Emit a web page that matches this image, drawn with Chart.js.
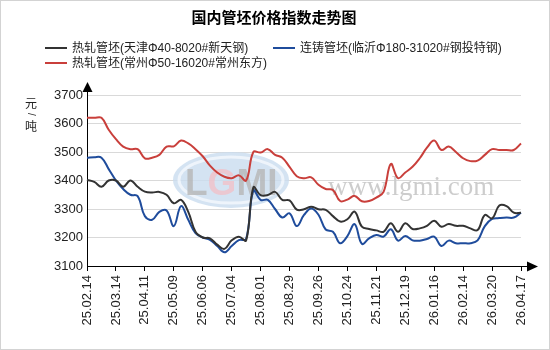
<!DOCTYPE html>
<html>
<head>
<meta charset="utf-8">
<script src="https://cdn.jsdelivr.net/npm/chart.js@4.4.1/dist/chart.umd.min.js"></script>
<style>
html, body { margin: 0; padding: 0; background: #fff; }
</style>
</head>
<body>
<canvas id="priceChart" width="550" height="350"></canvas>
<script>
// weekly index dates
var dates = [
  '25.02.14', '25.02.21', '25.02.28', '25.03.07', '25.03.14', '25.03.21', '25.03.28', '25.04.03',
  '25.04.11', '25.04.18', '25.04.25', '25.04.30', '25.05.09', '25.05.16', '25.05.23', '25.05.30',
  '25.06.06', '25.06.13', '25.06.20', '25.06.27', '25.07.04', '25.07.11', '25.07.18', '25.07.25',
  '25.08.01', '25.08.08', '25.08.15', '25.08.22', '25.08.29', '25.09.05', '25.09.12', '25.09.19',
  '25.09.26', '25.09.30', '25.10.10', '25.10.17', '25.10.24', '25.10.31', '25.11.07', '25.11.14',
  '25.11.21', '25.11.28', '25.12.05', '25.12.12', '25.12.19', '25.12.26', '25.12.31', '26.01.09',
  '26.01.16', '26.01.23', '26.01.30', '26.02.06', '26.02.14', '26.02.27', '26.03.06', '26.03.13',
  '26.03.20', '26.03.27', '26.04.03', '26.04.10', '26.04.17'
];

// 热轧管坯 天津
var tianjin = [
  3402, 3395, 3378, 3400, 3400, 3378, 3400, 3378, 3361, 3358,
  3360, 3350, 3320, 3332, 3290, 3220, 3200, 3197, 3175, 3160,
  3190, 3203, 3190, 3376, 3349, 3349, 3360, 3332, 3330, 3298,
  3299, 3308, 3299, 3297, 3275, 3256, 3264, 3291, 3238, 3230,
  3225, 3220, 3250, 3220, 3250, 3230, 3232, 3241, 3259, 3238,
  3247, 3241, 3241, 3232, 3226, 3279, 3267, 3312, 3310, 3287,
  3287
];

// 连铸管坯 临沂
var linyi = [
  3480, 3482, 3480, 3440, 3400, 3370, 3350, 3345, 3275, 3262,
  3290, 3295, 3240, 3310, 3262, 3215, 3200, 3192, 3170, 3148,
  3170, 3191, 3195, 3365, 3332, 3332, 3300, 3270, 3285, 3240,
  3279, 3302, 3280, 3228, 3220, 3180, 3205, 3247, 3178, 3197,
  3209, 3203, 3229, 3189, 3205, 3190, 3189, 3195, 3203, 3170,
  3189, 3180, 3180, 3180, 3190, 3240, 3265, 3268, 3270, 3270,
  3287
];

// 热轧管坯 常州
var changzhou = [
  3620, 3620, 3620, 3578, 3545, 3519, 3510, 3510, 3478, 3480,
  3490, 3519, 3520, 3540, 3530, 3510, 3485, 3452, 3428, 3413,
  3408, 3418, 3400, 3500, 3498, 3510, 3490, 3480, 3448, 3415,
  3408, 3411, 3385, 3370, 3367, 3328, 3333, 3346, 3327, 3328,
  3340, 3360, 3458, 3408, 3428, 3448, 3478, 3515, 3540, 3507,
  3519, 3500, 3478, 3468, 3470, 3490, 3510, 3507, 3507, 3507,
  3530
];

var seriesNames = [
  '热轧管坯(天津Φ40-8020#新天钢)',
  '连铸管坯(临沂Φ180-31020#钢投特钢)',
  '热轧管坯(常州Φ50-16020#常州东方)'
];
var seriesColors = ['#333333', '#1f4c9c', '#c93f3b'];

var latinFont = '"Liberation Sans", Arial, sans-serif';
var cjkFont = '"Liberation Sans", "Noto Sans CJK SC", sans-serif';

var decor = {
  id: 'decor',
  beforeDraw: function (chart) {
    var ctx = chart.ctx;
    ctx.save();
    ctx.fillStyle = '#ffffff';
    ctx.fillRect(0, 0, chart.width, chart.height);
    ctx.restore();
  },
  beforeDatasetsDraw: function (chart) {
    // faint site watermark behind the lines
    var ctx = chart.ctx;
    ctx.save();
    ctx.globalAlpha = 0.8;
    ctx.beginPath();
    ctx.ellipse(231, 180, 58, 28, 0, 0, Math.PI * 2);
    ctx.fillStyle = '#c9dcef';
    ctx.fill();
    ctx.beginPath();
    ctx.ellipse(231, 180, 52, 23, 0, 0, Math.PI * 2);
    ctx.strokeStyle = '#f4f8fc';
    ctx.lineWidth = 3;
    ctx.stroke();
    ctx.font = 'bold 37px ' + latinFont;
    ctx.textBaseline = 'alphabetic';
    var letters = [['L', '#b5b5b5'], ['G', '#f0c0c8'], ['M', '#b5b5b5'], ['I', '#b5b5b5']];
    var lx = 185;
    letters.forEach(function (l) {
      ctx.fillStyle = l[1];
      ctx.fillText(l[0], lx, 195);
      lx += ctx.measureText(l[0]).width;
    });
    ctx.globalAlpha = 1;
    ctx.font = '27px "Liberation Serif", serif';
    ctx.fillStyle = '#cdcdcd';
    ctx.fillText('www.lgmi.com', 328, 195);
    ctx.restore();
  },
  afterDraw: function (chart) {
    var ctx = chart.ctx;
    var area = chart.chartArea;
    ctx.save();

    // title
    ctx.fillStyle = '#000';
    ctx.font = 'bold 15px "Noto Sans CJK SC", sans-serif';
    ctx.textAlign = 'center';
    ctx.textBaseline = 'middle';
    ctx.fillText('国内管坯价格指数走势图', 274, 17);

    // legend in two columns
    var slots = [[45, 48], [273, 48], [45, 63]];
    ctx.textAlign = 'left';
    ctx.font = '12px ' + cjkFont;
    chart.data.datasets.forEach(function (ds, i) {
      var p = slots[i];
      ctx.strokeStyle = ds.borderColor;
      ctx.lineWidth = 2;
      ctx.beginPath();
      ctx.moveTo(p[0], p[1]);
      ctx.lineTo(p[0] + 22, p[1]);
      ctx.stroke();
      ctx.fillStyle = '#222';
      ctx.fillText(ds.label, p[0] + 27, p[1] + 1);
    });

    // unit
    ctx.textAlign = 'center';
    ctx.font = '12px "Noto Sans CJK SC", sans-serif';
    ctx.fillStyle = '#222';
    ctx.fillText('元', 31, 103);
    ctx.fillText('吨', 31, 126);
    ctx.save();
    ctx.translate(31, 114.5);
    ctx.rotate(Math.PI / 2);
    ctx.font = '10px ' + latinFont;
    ctx.fillText('/', 0, 0);
    ctx.restore();

    // axis arrows
    ctx.fillStyle = '#000';
    ctx.strokeStyle = '#000';
    ctx.lineWidth = 1;
    ctx.beginPath();
    ctx.moveTo(area.left + 0.5, area.top);
    ctx.lineTo(area.left + 0.5, area.top - 4);
    ctx.stroke();
    ctx.beginPath();
    ctx.moveTo(area.left + 0.5, area.top - 13);
    ctx.lineTo(area.left - 4.5, area.top - 3);
    ctx.lineTo(area.left + 5.5, area.top - 3);
    ctx.closePath();
    ctx.fill();
    ctx.beginPath();
    ctx.moveTo(area.right, area.bottom + 0.5);
    ctx.lineTo(area.right + 6, area.bottom + 0.5);
    ctx.stroke();
    ctx.beginPath();
    ctx.moveTo(area.right + 17, area.bottom + 0.5);
    ctx.lineTo(area.right + 6, area.bottom - 4.5);
    ctx.lineTo(area.right + 6, area.bottom + 5.5);
    ctx.closePath();
    ctx.fill();

    // frame
    ctx.strokeStyle = '#d3d3d3';
    ctx.strokeRect(0.5, 0.5, chart.width - 1, chart.height - 1);
    ctx.restore();
  }
};

var chart = new Chart(document.getElementById('priceChart').getContext('2d'), {
  type: 'line',
  data: {
    labels: dates,
    datasets: [
      { label: seriesNames[0], data: tianjin, borderColor: seriesColors[0] },
      { label: seriesNames[1], data: linyi, borderColor: seriesColors[1] },
      { label: seriesNames[2], data: changzhou, borderColor: seriesColors[2] }
    ]
  },
  options: {
    responsive: false,
    animation: false,
    devicePixelRatio: 1,
    layout: { padding: { top: 95, right: 29, bottom: 0, left: 0 } },
    elements: {
      line: { borderWidth: 2, tension: 0.4, fill: false },
      point: { radius: 0 }
    },
    plugins: {
      legend: { display: false },
      title: { display: false },
      tooltip: { enabled: false }
    },
    scales: {
      x: {
        grid: {
          drawOnChartArea: false,
          drawTicks: true,
          tickLength: 5,
          color: function (c) { return c.index % 4 === 0 ? '#000' : 'rgba(0,0,0,0)'; }
        },
        border: { display: true, color: '#000', width: 1 },
        ticks: {
          autoSkip: false,
          minRotation: 90,
          maxRotation: 90,
          padding: 4,
          color: '#222',
          font: { family: latinFont, size: 13 },
          callback: function (v, i) { return i % 4 === 0 ? this.getLabelForValue(v) : ''; }
        },
        afterFit: function (s) { s.height = 84; }
      },
      y: {
        min: 3100,
        max: 3700,
        ticks: {
          stepSize: 100,
          padding: 4,
          color: '#222',
          font: { family: latinFont, size: 13 },
          callback: function (v) { return String(v); }
        },
        grid: { color: '#d9d9d9', drawTicks: false },
        border: { display: true, color: '#000', width: 1 },
        afterFit: function (s) { s.width = 87; }
      }
    }
  },
  plugins: [decor]
});
</script>
</body>
</html>
